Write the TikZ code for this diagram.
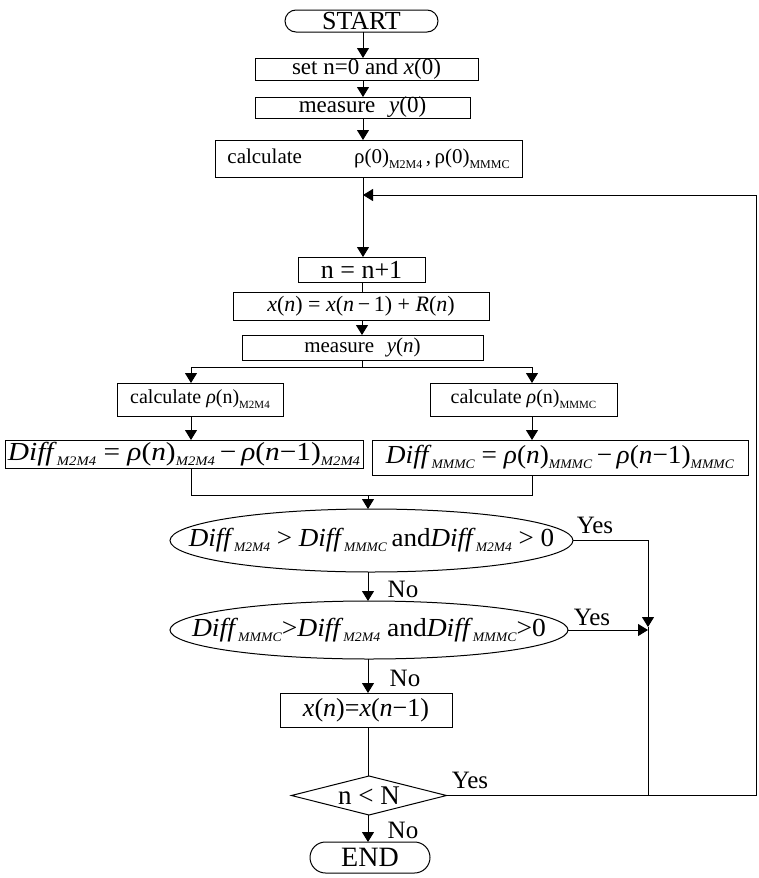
\documentclass[tikz,border=0pt]{standalone}
\usepackage{fontspec}
\setmainfont{Liberation Serif}
\usetikzlibrary{arrows.meta,shapes.geometric,calc}
\newcommand\lsub[2][11]{\raisebox{-5pt}{\fontsize{#1}{#1}\selectfont #2}}
\newcommand\fs[1]{\fontsize{#1}{#1}\selectfont}
\begin{document}
\begin{tikzpicture}[x=1pt,y=-1pt,
  every node/.style={inner sep=0pt, outer sep=0pt},
  box/.style={draw, line width=1pt, rectangle},
  ell/.style={draw, ellipse, line width=1pt},
  dia/.style={draw, diamond, line width=1pt},
  arr/.style={draw, line width=1pt, -{Triangle[width=12pt,length=10pt]}},
  ln/.style={draw, line width=1pt},
  lab/.style={font=\fs{25}}
]
\useasboundingbox (0,0) rectangle (758,878);

% axes
\coordinate (a1) at (363,0);
\coordinate (a2) at (362,0);
\coordinate (bl) at (191,0);
\coordinate (br) at (532,0);
\coordinate (a3) at (368,0);
\coordinate (jx) at (648,0);
\coordinate (rx) at (756,0);

% nodes
\node[box, rounded corners=11pt, minimum width=153pt, minimum height=22pt] (start) at (361.5,21) {\fs{26}START};
\node[box, minimum width=223pt, minimum height=22pt] (setb) at (366.5,69) {\fs{23}set n=0 and \textit{x}(0)};
\node[box, minimum width=215pt, minimum height=21pt] (meas0) at (362.5,107.5) {\fs{23}measure\hspace{0.6em}\textit{y}(0)};
\node[box, minimum width=307pt, minimum height=37pt] (calc0) at (368.5,158.5) {\fs{21}calculate\hspace{52pt}ρ(0)\lsub[12]{M2M4}\,,\,ρ(0)\lsub[12]{MMMC}};
\node[box, minimum width=127pt, minimum height=25pt] (incr) at (361.5,269.5) {\fs{26}n = n+1};
\node[box, minimum width=256pt, minimum height=28pt] (xn) at (361,306) {\fs{22}\textit{x}(\textit{n}) = \textit{x}(\textit{n}\,−\,1) + \textit{R}(\textit{n})};
\node[box, minimum width=241pt, minimum height=25pt] (measn) at (362.5,347.5) {\fs{21}measure\hspace{0.6em}\textit{y}(\textit{n})};
\node[box, minimum width=166pt, minimum height=33pt] (calcL) at (200,399.5) {\fs{20}calculate \textit{ρ}(n)\lsub[11]{M2M4}};
\node[box, minimum width=187pt, minimum height=33pt] (calcR) at (523.5,399.5) {\fs{20}calculate \textit{ρ}(n)\lsub[11]{MMMC}};
\node[box, minimum width=358pt, minimum height=28pt] (diffL) at (184,454) {\scalebox{1.13}[1]{\fs{26}\textit{Diff}\lsub[13]{\textit{M2M4}} = \textit{ρ}(\textit{n})\lsub[13]{\textit{M2M4}}\,−\,\textit{ρ}(\textit{n}−1)\lsub[13]{\textit{M2M4}}}};
\node[box, minimum width=376pt, minimum height=35pt] (diffR) at (560,457.5) {\scalebox{1.05}[1]{\fs{26}\textit{Diff}\lsub[13]{\textit{MMMC}} = \textit{ρ}(\textit{n})\lsub[13]{\textit{MMMC}}\,−\,\textit{ρ}(\textit{n}−1)\lsub[13]{\textit{MMMC}}}};
\node[ell, minimum width=403pt, minimum height=63pt,
  label={center:{\scalebox{1.04}[1]{\fs{26}\textit{Diff}\lsub[13]{\textit{M2M4}} > \textit{Diff}\lsub[13]{\textit{MMMC}}\,and\textit{Diff}\lsub[13]{\textit{M2M4}} > 0}}}] (ell1) at (371.5,540.5) {};
\node[ell, minimum width=398pt, minimum height=58pt,
  label={center:{\scalebox{1.06}[1]{\fs{26}\textit{Diff}\lsub[13]{\textit{MMMC}}>\textit{Diff}\lsub[13]{\textit{M2M4}} and\textit{Diff}\lsub[13]{\textit{MMMC}}>0}}}] (ell2) at (369,630) {};
\node[box, minimum width=172pt, minimum height=34pt] (xkeep) at (366,710) {\fs{26}\textit{x}(\textit{n})=\textit{x}(\textit{n}−1)};
\node[dia, minimum width=155pt, minimum height=39pt,
  label={center:{\fs{27}n < N}}] (dec) at (369,795.5) {};
\node[box, rounded corners=15.5pt, minimum width=120pt, minimum height=31pt] (endb) at (370,857.5) {\fs{28}END};

% labels
\node[lab] (y1) at (595,525) {Yes};
\node[lab] (n1) at (403,589) {No};
\node[lab] (y2) at (592,617) {Yes};
\node[lab] (n2) at (405,678) {No};
\node[lab] (y3) at (470,780) {Yes};
\node[lab] (n3) at (403,830) {No};

% connectors
\draw[arr] (start.south -| a1) -- (setb.north -| a1);
\draw[arr] (setb.south -| a1) -- (meas0.north -| a1);
\draw[arr] (meas0.south -| a1) -- (calc0.north -| a1);
\draw[arr] (calc0.south -| a1) -- (incr.north -| a1);
\draw[ln] (incr.south -| a2) -- (xn.north -| a2);
\draw[arr] (xn.south -| a2) -- (measn.north -| a2);
\coordinate (sp) at (362,367);
\draw[ln] (measn.south -| a2) -- (sp);
\draw[arr] (sp) -| (calcL.north -| bl);
\draw[arr] (sp) -| (calcR.north -| br);
\draw[arr] (calcL.south -| bl) -- (diffL.north -| bl);
\draw[arr] (calcR.south -| br) -- (diffR.north -| br);
\coordinate (mg) at (368,495);
\draw[ln] (diffL.south -| bl) |- (mg);
\draw[ln] (diffR.south -| br) |- (mg);
\draw[arr] (mg) -- (ell1.north -| a3);
\draw[arr] (ell1.south -| a3) -- (ell2.north -| a3);
\draw[arr] (ell2.south -| a3) -- (xkeep.north -| a3);
\draw[ln] (xkeep.south -| a3) -- (dec.north -| a3);
\draw[arr] (dec.south -| a3) -- (endb.north -| a3);
\coordinate (j1) at (648,627);
\draw[arr] (ell1.east) -| (j1);
\draw[arr] (ell2.east) -- (ell2.east -| jx);
\draw[ln] (j1) -- (dec.east -| jx);
\coordinate (lp) at (363,195);
\draw[arr] (dec.east) -- (dec.east -| rx) |- (lp);
\end{tikzpicture}
\end{document}
